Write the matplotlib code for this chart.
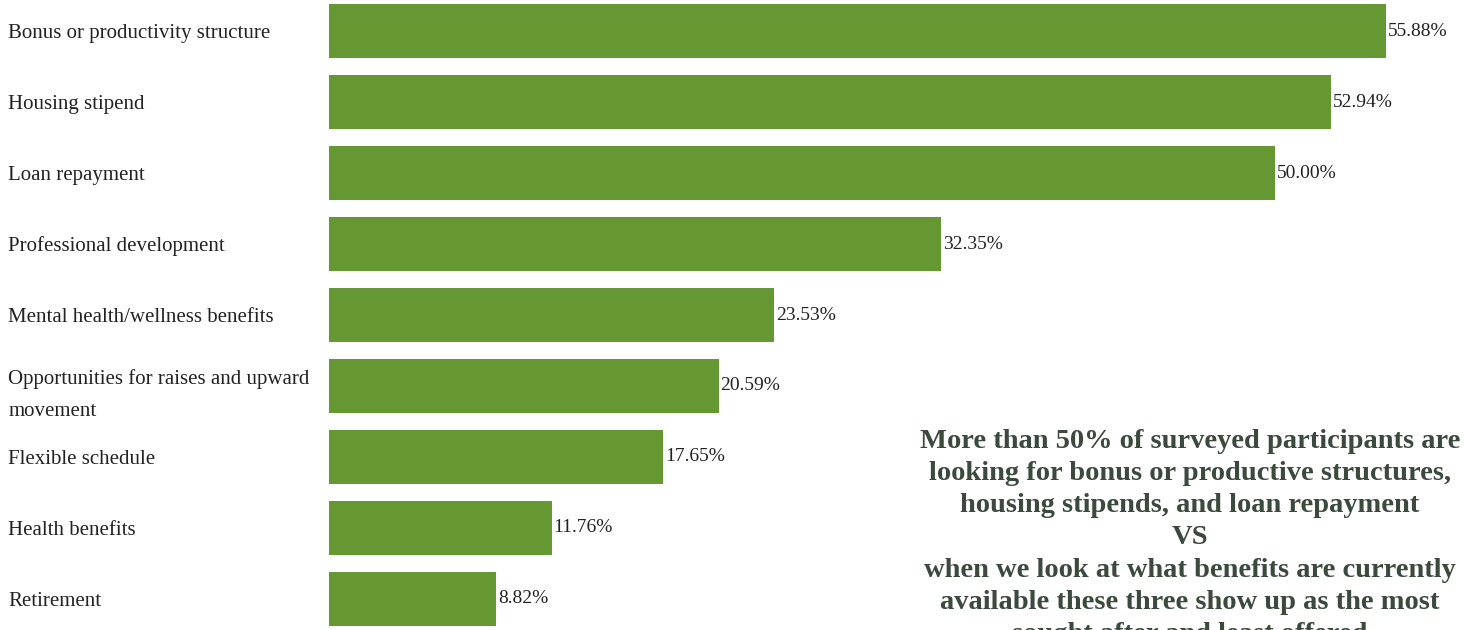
import matplotlib.pyplot as plt

benefits = [
    "Bonus or productivity structure",
    "Housing stipend",
    "Loan repayment",
    "Professional development",
    "Mental health/wellness benefits",
    "Opportunities for raises and upward\nmovement",
    "Flexible schedule",
    "Health benefits",
    "Retirement",
]
percent = [55.88, 52.94, 50.00, 32.35, 23.53, 20.59, 17.65, 11.76, 8.82]

note = ("More than 50% of surveyed participants are\n"
        "looking for bonus or productive structures,\n"
        "housing stipends, and loan repayment\n"
        "VS\n"
        "when we look at what benefits are currently\n"
        "available these three show up as the most\n"
        "sought after and least offered")

bar_color = "#659833"
note_color = "#3b4a3c"

fig = plt.figure(figsize=(14.65, 6.3), dpi=100)
ax = fig.add_axes([329 / 1465, 0, 1 - 329 / 1465, 1])

pos = list(range(len(benefits)))
ax.barh(pos, percent, height=0.75, color=bar_color)

for p, v in zip(pos, percent):
    ax.text(v + 0.1, p, "%.2f%%" % v, va="center", ha="left",
            fontsize=14, family="Liberation Serif", color="#222222")

ax.set_xlim(0, 60.04)
ax.set_ylim(8.437, -0.437)
ax.set_yticks(pos)
ax.set_yticklabels(benefits, fontsize=15, family="Liberation Serif",
                   color="#222222", ha="left", linespacing=1.9)
ax.tick_params(axis="y", length=0, pad=231)
ax.set_xticks([])
for s in ax.spines.values():
    s.set_visible(False)

fig.text(1190 / 1465, 1 - 538 / 630, note, ha="center", va="center",
         fontsize=20.5, fontweight="bold", family="Liberation Serif",
         color=note_color, linespacing=1.37)

fig.savefig("out.png", dpi=100)
